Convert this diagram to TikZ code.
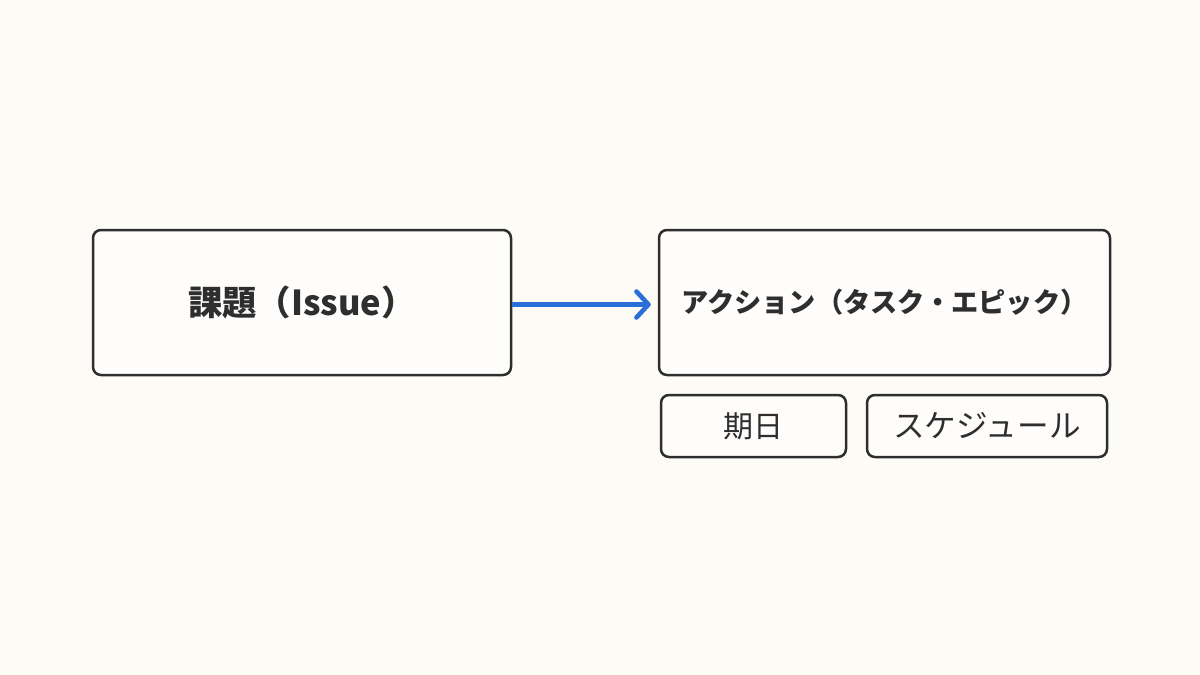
\documentclass[tikz,border=0pt]{standalone}
\usepackage{fontspec}
\usepackage{xcolor}
\usetikzlibrary{arrows.meta}
\newfontfamily\jpfont{Noto Sans CJK JP}
\definecolor{paper}{HTML}{FCFBF6}
\definecolor{ink}{HTML}{2E2E2E}
\definecolor{linkblue}{HTML}{2A6FD8}

\tikzset{
    box/.style = {draw = ink, line width = 1.25pt, rounded corners = 4pt,
        fill = white!60!paper, text = ink, inner sep = 0pt},
    link/.style = {draw = linkblue, line width = 2.3pt,
        -{Straight Barb[length = 6pt, width = 13pt, line cap = round, line join = round]}}
}

\begin{document}
\begin{tikzpicture}[x = 0.5pt, y = -0.5pt]
        \fill[paper] (0, 0) rectangle (1200, 675);
        \useasboundingbox (0, 0) rectangle (1200, 675);

        \node[box, minimum width = 209pt, minimum height = 72.5pt] (issue) at (302, 302.5)
            {\jpfont\fontsize{17.2pt}{20pt}\selectfont\bfseries 課題（Issue）};
        \node[box, minimum width = 225.5pt, minimum height = 72.5pt] (action) at (884.5, 302.5)
            {\jpfont\fontsize{13.6pt}{16pt}\selectfont\bfseries アクション（タスク・エピック）};
        \node[box, minimum width = 92.5pt, minimum height = 31pt] (due) at (753.5, 426)
            {\jpfont\fontsize{15pt}{18pt}\selectfont 期日};
        \node[box, minimum width = 120pt, minimum height = 31pt] (sched) at (987, 426)
            {\jpfont\fontsize{15.8pt}{18pt}\selectfont スケジュール};

        \draw[link] (issue.east) ++(0, 2) coordinate (from) -- ([xshift = -3.5pt, yshift = -1pt]action.west);
        \end{tikzpicture}
\end{document}
